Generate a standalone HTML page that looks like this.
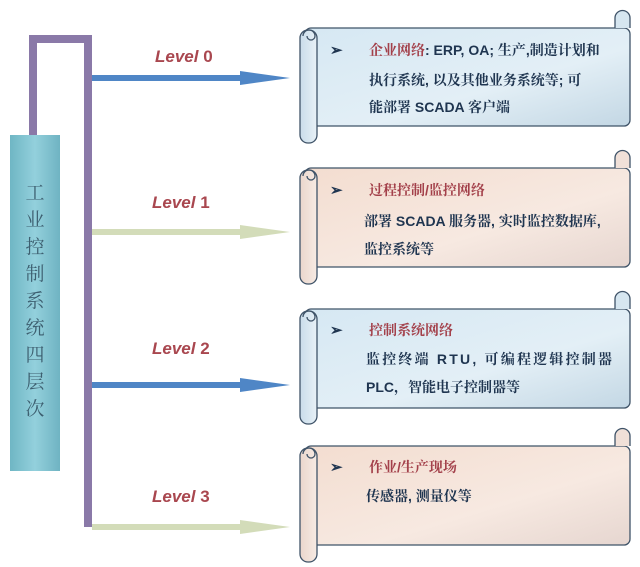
<!DOCTYPE html>
<html><head><meta charset="utf-8"><style>
html,body{margin:0;padding:0;background:#fff;}
svg{display:block;}
text{font-family:"Liberation Sans","Noto Serif CJK SC",serif;}
</style></head><body>
<svg width="640" height="567" viewBox="0 0 640 567" xmlns="http://www.w3.org/2000/svg">
<defs>
<linearGradient id="col" x1="0" x2="1" y1="0" y2="0">
<stop offset="0" stop-color="#6fb6c4"/><stop offset="0.5" stop-color="#93d0dc"/><stop offset="1" stop-color="#6fb3c2"/></linearGradient>
<linearGradient id="blue" x1="0" x2="1" y1="0" y2="1">
<stop offset="0" stop-color="#d6e8f3"/><stop offset="0.6" stop-color="#e3eff6"/><stop offset="1" stop-color="#c3d7e4"/></linearGradient>
<linearGradient id="peach" x1="0" x2="1" y1="0" y2="1">
<stop offset="0" stop-color="#f3ddd0"/><stop offset="0.6" stop-color="#f7e9e1"/><stop offset="1" stop-color="#e6d6d0"/></linearGradient>
<linearGradient id="roll" x1="0" x2="1"><stop offset="0" stop-color="#c9dcea"/><stop offset="1" stop-color="#e8f1f7"/></linearGradient>
<linearGradient id="rollp" x1="0" x2="1"><stop offset="0" stop-color="#ead6cc"/><stop offset="1" stop-color="#f7ebe4"/></linearGradient>
</defs>

<rect x="29" y="35" width="8" height="102" fill="#8a79a8"/>
<rect x="29" y="35" width="63" height="8" fill="#8a79a8"/>
<rect x="84" y="35" width="8" height="492" fill="#8a79a8"/>
<rect x="10" y="135" width="50" height="336" fill="url(#col)"/>
<g font-size="19" fill="#3d5f70" text-anchor="middle" style="font-family:'Noto Serif CJK SC',serif">
<text x="35" y="199">工</text><text x="35" y="226">业</text><text x="35" y="253">控</text>
<text x="35" y="280">制</text><text x="35" y="307">系</text><text x="35" y="334">统</text>
<text x="35" y="361">四</text><text x="35" y="388">层</text><text x="35" y="415">次</text>
</g>

<g>
<rect x="92" y="75" width="150" height="6" fill="#4f86c6"/><polygon points="240,71 290,78 240,85" fill="#4f86c6"/>
<rect x="92" y="229" width="150" height="6" fill="#d3dcb9"/><polygon points="240,225 290,232 240,239" fill="#d3dcb9"/>
<rect x="92" y="382" width="150" height="6" fill="#4f86c6"/><polygon points="240,378 290,385 240,392" fill="#4f86c6"/>
<rect x="92" y="524" width="150" height="6" fill="#d3dcb9"/><polygon points="240,520 290,527 240,534" fill="#d3dcb9"/>
</g>
<g font-size="17" font-weight="bold" fill="#a9474f">
<text x="155" y="62"><tspan font-style="italic">Level</tspan> 0</text>
<text x="152" y="208"><tspan font-style="italic">Level</tspan> 1</text>
<text x="152" y="354"><tspan font-style="italic">Level</tspan> 2</text>
<text x="152" y="502"><tspan font-style="italic">Level</tspan> 3</text>
</g>

<g stroke="#3f5368" stroke-width="1.3">
<rect x="305" y="28" width="325" height="98" rx="6" fill="url(#blue)"/>
<path d="M615,28 L615,18 a7,7 0 0 1 15,0 L630,28" fill="#d6e6f0"/>
<rect x="300" y="30" width="17" height="113" rx="8" fill="url(#roll)"/>
<path d="M303,36 a6,6 0 0 1 12,0 a4,4 0 0 1 -8,0" fill="none"/>
<rect x="305" y="168" width="325" height="99" rx="6" fill="url(#peach)"/>
<path d="M615,168 L615,158 a7,7 0 0 1 15,0 L630,168" fill="#f0e0d8"/>
<rect x="300" y="170" width="17" height="114" rx="8" fill="url(#rollp)"/>
<path d="M303,176 a6,6 0 0 1 12,0 a4,4 0 0 1 -8,0" fill="none"/>
<rect x="305" y="309" width="325" height="99" rx="6" fill="url(#blue)"/>
<path d="M615,309 L615,299 a7,7 0 0 1 15,0 L630,309" fill="#d6e6f0"/>
<rect x="300" y="311" width="17" height="113" rx="8" fill="url(#roll)"/>
<path d="M303,317 a6,6 0 0 1 12,0 a4,4 0 0 1 -8,0" fill="none"/>
<rect x="305" y="446" width="325" height="99" rx="6" fill="url(#peach)"/>
<path d="M615,446 L615,436 a7,7 0 0 1 15,0 L630,446" fill="#f0e0d8"/>
<rect x="300" y="448" width="17" height="114" rx="8" fill="url(#rollp)"/>
<path d="M303,454 a6,6 0 0 1 12,0 a4,4 0 0 1 -8,0" fill="none"/>
</g>

<g font-size="14" font-weight="bold" fill="#1f3550">
<text x="330" y="55" font-size="15">➢</text>
<text x="369" y="55"><tspan fill="#a3404a">企业网络</tspan>: ERP, OA; 生产,制造计划和</text>
<text x="369" y="85">执行系统, 以及其他业务系统等; 可</text>
<text x="369" y="112">能部署 SCADA 客户端</text>

<text x="330" y="195" font-size="15">➢</text>
<text x="369" y="195" fill="#a3404a">过程控制/监控网络</text>
<text x="364" y="226">部署 SCADA 服务器, 实时监控数据库,</text>
<text x="364" y="254">监控系统等</text>

<text x="330" y="335" font-size="15">➢</text>
<text x="369" y="335" fill="#a3404a">控制系统网络</text>
<text x="366" y="364" textLength="246">监控终端 RTU, 可编程逻辑控制器</text>
<text x="366" y="392">PLC，智能电子控制器等</text>

<text x="330" y="472" font-size="15">➢</text>
<text x="369" y="472" fill="#a3404a">作业/生产现场</text>
<text x="366" y="501">传感器, 测量仪等</text>
</g>
</svg>
</body></html>
